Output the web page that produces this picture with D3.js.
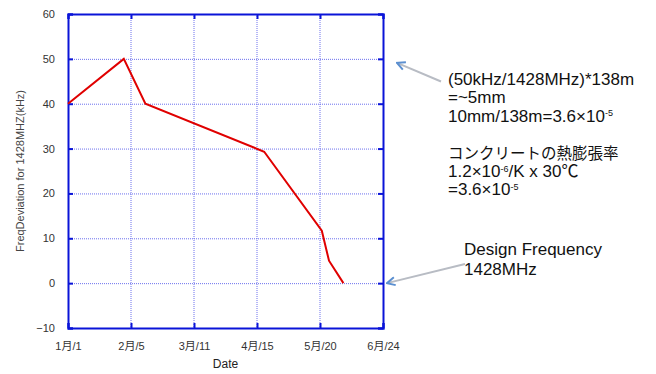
<!DOCTYPE html>
<html>
<head>
<meta charset="utf-8">
<script src="https://cdn.jsdelivr.net/npm/d3@7"></script>
<style>
  body { margin: 0; background: #fff; }
  svg text { font-family: "Liberation Sans", Arial, "Noto Sans CJK JP", sans-serif; }
</style>
</head>
<body>
<div id="viz"></div>
<script>
// frequency deviation vs. date (2012)
var dates = ['2012-01-01', '2012-02-01', '2012-02-13', '2012-04-19', '2012-05-21', '2012-05-25', '2012-06-02'];
var deviation = [40, 50, 40, 29.3, 11.7, 5, 0];
var xTicks = ['2012-01-01', '2012-02-05', '2012-03-11', '2012-04-15', '2012-05-20', '2012-06-24'];
var xTickLabels = ['1月/1', '2月/5', '3月/11', '4月/15', '5月/20', '6月/24'];
var yTicks = [-10, 0, 10, 20, 30, 40, 50, 60];

var note1 = [
  [['(50kHz/1428MHz)*138m']],
  [['=~5mm']],
  [['10mm/138m=3.6×10'], ['-5', 'sup']],
  [],
  [['コンクリートの熱膨張率', 'jp']],
  [['1.2×10'], ['-6', 'sup'], ['/K x 30℃']],
  [['=3.6×10'], ['-5', 'sup']]
];
var note2 = ['Design Frequency', '1428MHz'];

var W = 656, H = 374,
    margin = { top: 14, right: 273, bottom: 46, left: 68 },
    width = W - margin.left - margin.right,
    height = H - margin.top - margin.bottom;

var parse = d3.timeParse('%Y-%m-%d');

var xScale = d3.scaleTime()
    .domain([parse(xTicks[0]), parse(xTicks[xTicks.length - 1])])
    .range([0, width]);

var yScale = d3.scaleLinear()
    .domain([-10, 60])
    .range([height, 0]);

var svg = d3.select('#viz').append('svg')
    .attr('width', W)
    .attr('height', H);

var g = svg.append('g')
    .attr('transform', 'translate(' + margin.left + ',' + margin.top + ')');

var blue = '#0a14d8';

// grid
g.selectAll('.vgrid').data(xTicks.slice(1, -1))
  .enter().append('line')
    .attr('x1', function(d) { return xScale(parse(d)); })
    .attr('x2', function(d) { return xScale(parse(d)); })
    .attr('y1', 0).attr('y2', height)
    .attr('stroke', '#6c70ee').attr('stroke-width', 1)
    .attr('stroke-dasharray', '1,1');

g.selectAll('.hgrid').data(yTicks.slice(1, -1))
  .enter().append('line')
    .attr('y1', function(d) { return yScale(d) + 0.5; })
    .attr('y2', function(d) { return yScale(d) + 0.5; })
    .attr('x1', 0).attr('x2', width)
    .attr('stroke', '#6c70ee').attr('stroke-width', 1)
    .attr('stroke-dasharray', '1,1');

// axes (ticks point inward)
var tickFmt = function(d, i) { return xTickLabels[i]; };
var xVals = xTicks.map(parse);

var xBottom = d3.axisBottom(xScale).tickValues(xVals).tickSize(-5).tickFormat(tickFmt).tickPadding(14);
var xTop = d3.axisTop(xScale).tickValues(xVals).tickSize(-5).tickFormat('');
var yLeft = d3.axisLeft(yScale).tickValues(yTicks).tickSize(-5).tickPadding(13);
var yRight = d3.axisRight(yScale).tickValues(yTicks).tickSize(-5).tickFormat('');

function styleAxis(sel) {
  sel.select('.domain').attr('stroke', blue).attr('stroke-width', 2);
  sel.selectAll('.tick line').attr('stroke', blue).attr('stroke-width', 2);
  sel.selectAll('.tick text').attr('fill', '#333').style('font-size', '11px');
}

g.append('g').attr('transform', 'translate(0,' + height + ')').call(xBottom).call(styleAxis);
g.append('g').call(xTop).call(styleAxis);
g.append('g').call(yLeft).call(styleAxis);
g.append('g').attr('transform', 'translate(' + width + ',0)').call(yRight).call(styleAxis);

// data line
var line = d3.line()
    .x(function(d, i) { return xScale(parse(dates[i])); })
    .y(function(d) { return yScale(d); });

g.append('path')
    .datum(deviation)
    .attr('d', line)
    .attr('fill', 'none')
    .attr('stroke', '#e00000')
    .attr('stroke-width', 2);

// axis titles
svg.append('text')
    .attr('x', margin.left + width / 2)
    .attr('y', 368)
    .attr('text-anchor', 'middle')
    .attr('fill', '#222')
    .style('font-size', '12px')
    .text('Date');

svg.append('text')
    .attr('transform', 'translate(24,' + (margin.top + height / 2) + ') rotate(-90)')
    .attr('text-anchor', 'middle')
    .attr('fill', '#444')
    .style('font-size', '11px')
    .text('FreqDeviation for 1428MHZ(kHz)');

// annotations
svg.append('defs').append('marker')
    .attr('id', 'head')
    .attr('viewBox', '0 0 10 10')
    .attr('refX', 9).attr('refY', 5)
    .attr('markerWidth', 5).attr('markerHeight', 5)
    .attr('markerUnits', 'strokeWidth')
    .attr('orient', 'auto')
  .append('path')
    .attr('d', 'M1,1 L9,5 L1,9')
    .attr('fill', 'none')
    .attr('stroke', '#5b8fd0')
    .attr('stroke-width', 2);

function arrow(x1, y1, x2, y2) {
  svg.append('line')
      .attr('x1', x1).attr('y1', y1).attr('x2', x2).attr('y2', y2)
      .attr('stroke', '#b8bcc4').attr('stroke-width', 2)
      .attr('marker-end', 'url(#head)');
}
var xr = margin.left + width;
arrow(441, 81.5, xr + 14, margin.top + yScale(50) + 4);
arrow(465, 264, xr + 4, margin.top + yScale(0));

var t1 = svg.append('text')
    .attr('fill', '#111')
    .style('font-size', '17px');
note1.forEach(function(parts, i) {
  var first = true;
  parts.forEach(function(p) {
    var ts = t1.append('tspan').text(p[0]);
    if (first) ts.attr('x', 448).attr('y', 85 + i * 18.4);
    if (p[1] === 'sup') {
      ts.style('font-size', '9px').attr('dy', -5.5);
    } else if (p[1] === 'jp') {
      ts.style('font-size', '15.5px');
    } else if (!first) {
      ts.attr('dy', 5.5);
    }
    first = false;
  });
});

svg.append('text')
    .attr('fill', '#111')
    .style('font-size', '17px')
  .selectAll('tspan').data(note2)
  .enter().append('tspan')
    .attr('x', 464)
    .attr('y', function(d, i) { return 255 + i * 20; })
    .text(function(d) { return d; });
</script>
</body>
</html>
